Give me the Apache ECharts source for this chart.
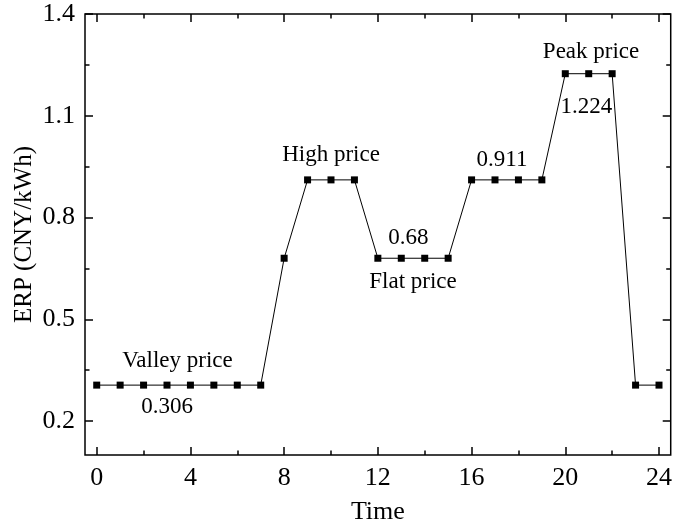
<!DOCTYPE html>
<html>
<head>
<meta charset="utf-8">
<title>ERP by hour</title>
<script src="https://cdn.jsdelivr.net/npm/echarts@6/dist/echarts.min.js"></script>
<style>
  html, body { margin: 0; padding: 0; background: #fff; }
  #chart { width: 675px; height: 530px; }
</style>
</head>
<body>
<div id="chart"></div>
<script>
// Hourly electricity retail price (ERP) over one day
const hours = [0, 1, 2, 3, 4, 5, 6, 7, 8, 9, 10, 11, 12, 13, 14, 15, 16, 17, 18, 19, 20, 21, 22, 23, 24];
const prices = [0.306, 0.306, 0.306, 0.306, 0.306, 0.306, 0.306, 0.306,
                0.68, 0.911, 0.911, 0.911, 0.68, 0.68, 0.68, 0.68,
                0.911, 0.911, 0.911, 0.911, 1.224, 1.224, 1.224, 0.306, 0.306];

// Axis tick labels
const xTickLabels = [0, 4, 8, 12, 16, 20, 24];
const yTickLabels = [0.2, 0.5, 0.8, 1.1, 1.4];

// Price tier names, the tier price each one describes, and the hour it sits over
const tierNames = ['Valley price', 'High price', 'Flat price', 'Peak price'];
const tierPrices = [0.306, 0.911, 0.68, 1.224];
const tierHours = [3.45, 10.0, 13.5, 21.1];

// Price value callouts and the hour each sits over
const calloutPrices = [0.306, 0.68, 0.911, 1.224];
const calloutHours = [3.0, 13.3, 17.3, 20.9];

const FONT = "'Liberation Serif', 'Times New Roman', serif";
const X_MIN = -0.5, X_MAX = 24.5;
const Y_MIN = 0.1, Y_MAX = 1.4;

// Evenly spaced positions used to place major and minor ticks
const xSlots = Array.from({ length: Math.round((X_MAX - X_MIN) / 0.5) + 1 }, (_, i) => (X_MIN + i * 0.5).toFixed(1));
const ySlots = Array.from({ length: Math.round((Y_MAX - Y_MIN) / 0.05) + 1 }, (_, i) => (Y_MIN + i * 0.05).toFixed(2));

const near = (a, b) => Math.abs(a - b) < 1e-6;
const midpoints = arr => arr.slice(1).map((v, i) => (v + arr[i]) / 2);
const xMinor = midpoints(xTickLabels);
const yMinor = midpoints(yTickLabels);
const isIn = (list, v) => list.some(t => near(t, Number(v)));

function tickAxis(kind, position, slots, majors, minors, major, labels) {
  const list = major ? majors : minors;
  return {
    type: 'category',
    position: position,
    data: slots,
    boundaryGap: false,
    axisLine: { show: false },
    axisTick: {
      show: true,
      inside: true,
      length: major ? 8 : 4.5,
      interval: (idx, val) => isIn(list, val),
      lineStyle: { color: '#000', width: 1.5 }
    },
    axisLabel: labels ? {
      show: true,
      interval: (idx, val) => isIn(majors, val),
      formatter: v => String(Number(v)),
      color: '#000',
      fontFamily: FONT,
      fontSize: 26,
      margin: kind === 'x' ? 10 : 10
    } : { show: false },
    splitLine: { show: false }
  };
}

// Layout of the text anchors relative to the tier line
const tierOffsets = { 'Valley price': -24, 'High price': -25, 'Flat price': 24, 'Peak price': -22 };
const calloutOffsets = [22, -20, -20, 33];

const chart = echarts.init(document.getElementById('chart'), null, { renderer: 'canvas' });

const annotationLabel = {
  show: true,
  position: 'inside',
  fontFamily: FONT,
  fontSize: 23,
  color: '#000',
  opacity: 1,
  textBorderWidth: 0
};

chart.setOption({
  animation: false,
  backgroundColor: '#fff',
  textStyle: { fontFamily: FONT, color: '#000' },
  grid: {
    left: 85, right: 2, top: 14, bottom: 73,
    show: true,
    borderColor: '#000',
    borderWidth: 1.5,
    backgroundColor: 'transparent'
  },
  xAxis: [
    {
      type: 'value',
      min: X_MIN, max: X_MAX,
      position: 'bottom',
      name: 'Time',
      nameLocation: 'middle',
      nameGap: 44,
      nameTextStyle: { fontFamily: FONT, fontSize: 26, color: '#000' },
      axisLine: { show: false },
      axisTick: { show: false },
      axisLabel: { show: false },
      splitLine: { show: false }
    },
    tickAxis('x', 'bottom', xSlots, xTickLabels, xMinor, true, true),
    tickAxis('x', 'bottom', xSlots, xTickLabels, xMinor, false, false),
    tickAxis('x', 'top', xSlots, xTickLabels, xMinor, true, false),
    tickAxis('x', 'top', xSlots, xTickLabels, xMinor, false, false)
  ],
  yAxis: [
    {
      type: 'value',
      min: Y_MIN, max: Y_MAX,
      position: 'left',
      name: 'ERP (CNY/kWh)',
      nameLocation: 'middle',
      nameGap: 48,
      nameTextStyle: { fontFamily: FONT, fontSize: 25, color: '#000' },
      axisLine: { show: false },
      axisTick: { show: false },
      axisLabel: { show: false },
      splitLine: { show: false }
    },
    tickAxis('y', 'left', ySlots, yTickLabels, yMinor, true, true),
    tickAxis('y', 'left', ySlots, yTickLabels, yMinor, false, false),
    tickAxis('y', 'right', ySlots, yTickLabels, yMinor, true, false),
    tickAxis('y', 'right', ySlots, yTickLabels, yMinor, false, false)
  ],
  series: [
    {
      name: 'ERP',
      type: 'line',
      xAxisIndex: 0,
      yAxisIndex: 0,
      data: hours.map((h, i) => [h, prices[i]]),
      symbol: 'rect',
      symbolSize: 7,
      showAllSymbol: true,
      lineStyle: { color: '#000', width: 1 },
      itemStyle: { color: '#000' },
      z: 3
    },
    {
      name: 'Tier names',
      type: 'scatter',
      xAxisIndex: 0,
      yAxisIndex: 0,
      symbolSize: 1,
      itemStyle: { color: 'rgba(0,0,0,0)' },
      silent: true,
      data: tierNames.map((n, i) => ({
        name: n,
        value: [tierHours[i], tierPrices[i]],
        label: { offset: [0, tierOffsets[n]] }
      })),
      label: Object.assign({ formatter: p => p.name }, annotationLabel),
      z: 4
    },
    {
      name: 'Price callouts',
      type: 'scatter',
      xAxisIndex: 0,
      yAxisIndex: 0,
      symbolSize: 1,
      itemStyle: { color: 'rgba(0,0,0,0)' },
      silent: true,
      data: calloutPrices.map((p, i) => ({
        value: [calloutHours[i], p],
        label: { offset: [0, calloutOffsets[i]] }
      })),
      label: Object.assign({ formatter: p => String(p.value[1]) }, annotationLabel),
      z: 4
    }
  ]
});
</script>
</body>
</html>
